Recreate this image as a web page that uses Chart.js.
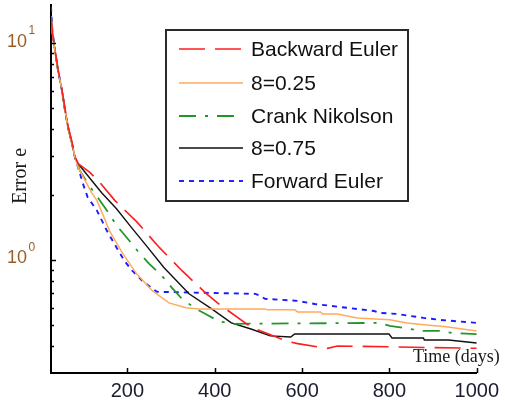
<!DOCTYPE html>
<html><head><meta charset="utf-8">
<script src="https://cdn.jsdelivr.net/npm/chart.js@4/dist/chart.umd.min.js"></script>
<style>html,body{margin:0;padding:0;background:#fff;}canvas{display:block}</style>
</head><body>
<canvas id="c" width="505" height="402"></canvas>
<script>
// ---- data ----
const seriesNames = ['Backward Euler', '8=0.25', 'Crank Nikolson', '8=0.75', 'Forward Euler'];

const backwardX = [25, 28, 35, 41, 50, 57, 64, 73, 80, 87, 114, 137, 171, 221, 273, 325, 380, 407, 479, 504, 567, 590, 658, 681, 1000];
const backwardY = [13.3, 11.3, 9.1, 7.6, 6.1, 5.0, 4.15, 3.5, 3.0, 2.78, 2.53, 2.27, 1.88, 1.50, 1.14, 0.89, 0.70, 0.63, 0.495, 0.47, 0.42, 0.41, 0.39, 0.40, 0.39];

const theta025X = [25, 28, 35, 41, 50, 57, 64, 73, 80, 87, 118, 130, 143, 159, 189, 221, 257, 295, 334, 363, 515, 522, 583, 590, 642, 647, 681, 726, 801, 840, 885, 930, 1000];
const theta025Y = [13.3, 11.1, 9.0, 7.5, 6.06, 4.9, 4.08, 3.44, 2.96, 2.67, 2.04, 1.88, 1.63, 1.36, 1.07, 0.861, 0.72, 0.632, 0.60, 0.593, 0.593, 0.587, 0.587, 0.574, 0.574, 0.562, 0.562, 0.539, 0.528, 0.511, 0.50, 0.49, 0.469];

const crankX = [25, 28, 35, 41, 50, 57, 64, 73, 80, 91, 109, 132, 153, 175, 205, 223, 250, 279, 302, 325, 357, 379, 409, 438, 778, 801, 833, 878, 914, 946, 1000];
const crankY = [13.3, 11.1, 9.0, 7.5, 6.06, 4.9, 4.08, 3.44, 2.96, 2.58, 2.25, 1.94, 1.69, 1.44, 1.22, 1.10, 0.958, 0.843, 0.742, 0.66, 0.593, 0.562, 0.52, 0.506, 0.511, 0.495, 0.484, 0.469, 0.469, 0.459, 0.454];

const theta075X = [25, 28, 35, 41, 50, 57, 64, 73, 80, 87, 109, 141, 175, 209, 239, 284, 341, 393, 438, 483, 527, 574, 583, 799, 806, 878, 880, 935, 1000];
const theta075Y = [13.1, 11.1, 8.98, 7.5, 6.06, 4.9, 4.08, 3.44, 2.96, 2.78, 2.45, 2.04, 1.72, 1.41, 1.19, 0.918, 0.696, 0.593, 0.511, 0.479, 0.445, 0.44, 0.454, 0.454, 0.435, 0.435, 0.426, 0.426, 0.413];

const forwardX = [25, 28, 35, 41, 50, 57, 64, 73, 80, 87, 98, 109, 130, 153, 175, 193, 211, 234, 255, 268, 493, 504, 515, 590, 629, 703, 765, 779, 817, 878, 914, 1000];
const forwardY = [14.7, 11.5, 9.0, 7.5, 6.06, 4.9, 4.08, 3.44, 2.96, 2.67, 2.25, 1.94, 1.69, 1.36, 1.14, 0.99, 0.89, 0.80, 0.742, 0.711, 0.696, 0.682, 0.66, 0.646, 0.625, 0.60, 0.58, 0.568, 0.562, 0.539, 0.528, 0.511];

const xTickValues = [200, 400, 600, 800, 1000];
const yMinorTickValues = [0.4, 0.5, 0.6, 0.7, 0.8, 0.9, 2, 3, 4, 5, 6, 7, 8, 9];
const yMajorTickValues = [1, 10];
const yMajorExponents = ['0', '1'];
const xTitle = 'Time (days)';
const yTitle = 'Error e';

// ---- build ----
function pts(xs, ys) { return xs.map((x, i) => ({ x: x, y: ys[i] })); }

const styles = [
  { color: '#ff1e1e', dash: [26, 10], width: 1.6 },
  { color: '#ffab5c', dash: [], width: 1.5 },
  { color: '#22962a', dash: [17, 9, 3, 9], width: 1.8 },
  { color: '#111111', dash: [], width: 1.4 },
  { color: '#1a1aff', dash: [5, 5], width: 1.9 }
];
const allData = [pts(backwardX, backwardY), pts(theta025X, theta025Y), pts(crankX, crankY), pts(theta075X, theta075Y), pts(forwardX, forwardY)];

const datasets = seriesNames.map((n, i) => ({
  label: n,
  data: allData[i],
  borderColor: styles[i].color,
  borderDash: styles[i].dash,
  borderWidth: styles[i].width,
  pointRadius: 0,
  tension: 0,
  fill: false
}));

const SANS = "Arial, 'Liberation Sans', sans-serif";
const SERIF = "'Times New Roman', 'Liberation Serif', serif";

const decor = {
  id: 'decor',
  afterDraw(chart) {
    const ctx = chart.ctx, xs = chart.scales.x, ys = chart.scales.y, a = chart.chartArea;
    ctx.save();
    // inward tick marks
    ctx.strokeStyle = '#000'; ctx.lineWidth = 1.5;
    ctx.beginPath();
    xTickValues.forEach(v => { const px = Math.round(xs.getPixelForValue(v)) + 0.5; ctx.moveTo(px, a.bottom); ctx.lineTo(px, a.bottom - 5); });
    yMinorTickValues.forEach(v => { const py = Math.round(ys.getPixelForValue(v)) + 0.5; ctx.moveTo(a.left, py); ctx.lineTo(a.left + 3, py); });
    yMajorTickValues.forEach(v => { const py = Math.round(ys.getPixelForValue(v)) + 0.5; ctx.moveTo(a.left, py); ctx.lineTo(a.left + 5, py); });
    ctx.stroke();
    // y tick labels 10^n
    ctx.fillStyle = '#9a5e28';
    yMajorTickValues.forEach((v, i) => {
      const py = ys.getPixelForValue(v);
      ctx.font = '18px ' + SANS; ctx.textAlign = 'right'; ctx.textBaseline = 'middle';
      ctx.fillText('10', 27, py - 1.5);
      ctx.font = '12px ' + SANS; ctx.textAlign = 'left';
      ctx.fillText(yMajorExponents[i], 28.5, py - 12.5);
    });
    // axis titles
    ctx.fillStyle = '#1a1a1a';
    ctx.font = '18px ' + SERIF; ctx.textAlign = 'left'; ctx.textBaseline = 'alphabetic';
    ctx.fillText(xTitle, 413, 362);
    ctx.save();
    ctx.translate(26, 176); ctx.rotate(-Math.PI / 2);
    ctx.font = '20px ' + SERIF; ctx.textAlign = 'center'; ctx.textBaseline = 'alphabetic';
    ctx.fillText(yTitle, 0, 0);
    ctx.restore();
    // legend box
    ctx.fillStyle = '#fff'; ctx.fillRect(166, 30, 242, 171);
    ctx.strokeStyle = '#2a2a2a'; ctx.lineWidth = 2; ctx.strokeRect(166, 30, 242, 171);
    const rows = [49, 83, 116, 148, 181];
    chart.data.datasets.forEach((d, i) => {
      ctx.save();
      ctx.strokeStyle = d.borderColor; ctx.lineWidth = d.borderWidth; ctx.setLineDash(d.borderDash);
      ctx.beginPath(); ctx.moveTo(179, rows[i]); ctx.lineTo(243, rows[i]); ctx.stroke();
      ctx.restore();
      ctx.fillStyle = '#111'; ctx.font = '21px ' + SANS; ctx.textAlign = 'left'; ctx.textBaseline = 'middle';
      ctx.fillText(d.label, 251, rows[i] + 1);
    });
    ctx.restore();
  }
};

new Chart(document.getElementById('c'), {
  type: 'line',
  data: { datasets: datasets },
  plugins: [decor],
  options: {
    responsive: false, animation: false, devicePixelRatio: 1,
    layout: { padding: { left: 0, right: 24, top: 5, bottom: 0 } },
    plugins: { legend: { display: false }, tooltip: { enabled: false } },
    scales: {
      x: {
        type: 'linear', min: 25, max: 1000,
        afterBuildTicks: s => { s.ticks = xTickValues.map(v => ({ value: v })); },
        afterFit: s => { s.height = 29; },
        grid: { display: false, drawTicks: false },
        border: { display: true, color: '#000', width: 2 },
        ticks: { color: '#1c1c30', font: { size: 20, family: SANS }, padding: 6, maxRotation: 0, autoSkip: false,
                 callback: v => String(v) }
      },
      y: {
        type: 'logarithmic', min: 0.3, max: 15,
        afterFit: s => { s.width = 51; },
        grid: { display: false, drawTicks: false },
        border: { display: true, color: '#000', width: 2 },
        ticks: { display: false }
      }
    }
  }
});
</script>
</body></html>
